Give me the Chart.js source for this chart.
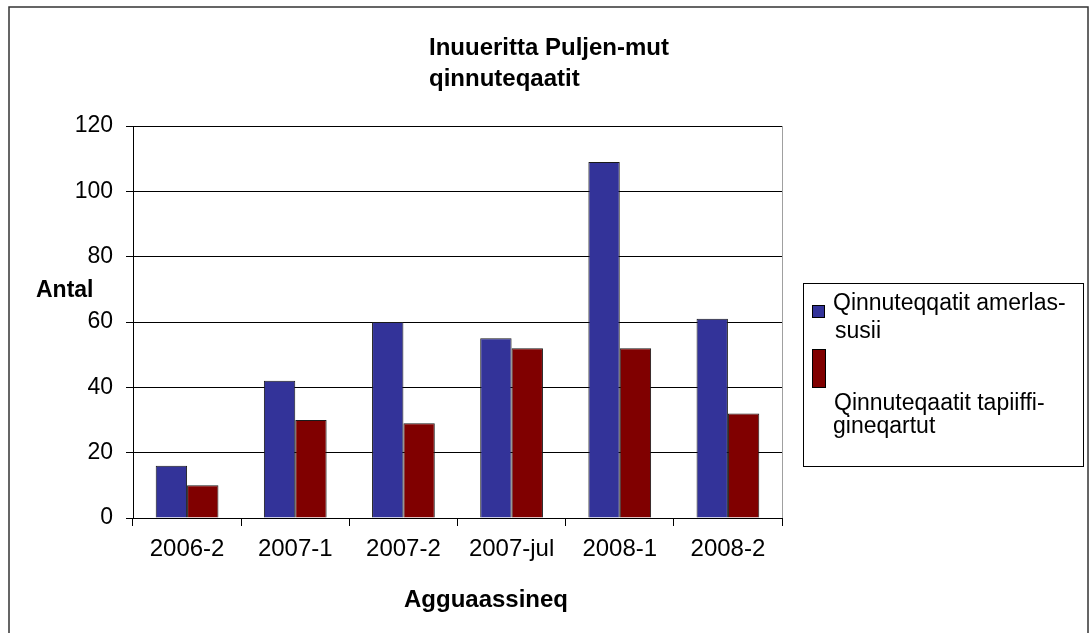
<!DOCTYPE html>
<html>
<head>
<meta charset="utf-8">
<script src="https://cdn.jsdelivr.net/npm/chart.js@4/dist/chart.umd.min.js"></script>
<style>
html,body{margin:0;padding:0;background:#fff;}
#wrap{width:1090px;height:633px;position:relative;}
</style>
</head>
<body>
<div id="wrap"><canvas id="c" width="1090" height="633"></canvas></div>
<script>
const categories = ["2006-2", "2007-1", "2007-2", "2007-jul", "2008-1", "2008-2"];
const seriesNames = ["Qinnuteqqatit amerlassusii", "Qinnuteqaatit tapiiffigineqartut"];
const amerlassusii = [16, 42, 60, 55, 109, 61];
const tapiiffigineqartut = [10, 30, 29, 52, 52, 32];
const yTicks = [0, 20, 40, 60, 80, 100, 120];
const titleLines = ["Inuueritta Puljen-mut", "qinnuteqaatit"];
const xTitle = "Agguaassineq";
const yTitle = "Antal";
const legendLines = [["Qinnuteqqatit amerlas-", "susii"], ["Qinnuteqaatit tapiiffi-", "gineqartut"]];

const FONT = "'Liberation Sans', Arial, sans-serif";
const BLUE = "#333399", RED = "#800000";

const decor = {
  id: "decor",
  beforeDraw(chart) {
    const ctx = chart.ctx;
    ctx.save();
    ctx.fillStyle = "#fff";
    ctx.fillRect(0, 0, chart.width, chart.height);
    ctx.restore();
  },
  afterDraw(chart) {
    const ctx = chart.ctx;
    const a = chart.chartArea;
    ctx.save();
    ctx.strokeStyle = "#a0a0a0";
    ctx.lineWidth = 1;
    ctx.beginPath();
    ctx.moveTo(Math.round(a.right) + 0.5, a.top);
    ctx.lineTo(Math.round(a.right) + 0.5, a.bottom);
    ctx.stroke();
    // outer border
    ctx.strokeStyle = "#333";
    ctx.lineWidth = 1.5;
    ctx.strokeRect(9, 7, 1079, 640);
    // title
    ctx.fillStyle = "#000";
    ctx.font = "bold 24px " + FONT;
    ctx.textAlign = "left";
    ctx.textBaseline = "alphabetic";
    ctx.fillText(titleLines[0], 429, 55);
    ctx.fillText(titleLines[1], 429, 86);
    // y title
    ctx.font = "bold 23px " + FONT;
    ctx.fillText(yTitle, 36, 297);
    // x title
    ctx.font = "bold 24px " + FONT;
    ctx.textAlign = "center";
    ctx.fillText(xTitle, 486, 607);
    // legend
    ctx.strokeStyle = "#000";
    ctx.lineWidth = 1;
    ctx.strokeRect(803.5, 283.5, 280, 183);
    ctx.fillStyle = BLUE;
    ctx.fillRect(812, 305, 13, 13);
    ctx.strokeRect(812.5, 305.5, 12, 12);
    ctx.fillStyle = RED;
    ctx.fillRect(812, 349, 14, 39);
    ctx.strokeRect(812.5, 349.5, 13, 38);
    ctx.fillStyle = "#000";
    ctx.font = "23px " + FONT;
    ctx.textAlign = "left";
    ctx.textBaseline = "alphabetic";
    ctx.fillText(legendLines[0][0], 833, 310);
    ctx.fillText(legendLines[0][1], 835, 338);
    ctx.fillText(legendLines[1][0], 834, 410);
    ctx.fillText(legendLines[1][1], 833, 433);
    ctx.restore();
  }
};

new Chart(document.getElementById("c"), {
  type: "bar",
  data: {
    labels: categories,
    datasets: [
      { label: seriesNames[0], data: amerlassusii, backgroundColor: BLUE, borderColor: "#1a1a1a", borderWidth: 1 },
      { label: seriesNames[1], data: tapiiffigineqartut, backgroundColor: RED, borderColor: "#1a1a1a", borderWidth: 1 }
    ]
  },
  options: {
    responsive: false,
    animation: false,
    events: [],
    layout: { padding: { left: 0, right: 308, top: 126, bottom: 0 } },
    plugins: { legend: { display: false }, title: { display: false }, tooltip: { enabled: false } },
    datasets: { bar: { categoryPercentage: 0.58, barPercentage: 1.0 } },
    scales: {
      x: {
        offset: true,
        grid: { offset: true, drawOnChartArea: false, drawTicks: true, tickLength: 8, color: "#000", tickColor: "#000" },
        border: { color: "#000", width: 1 },
        ticks: { color: "#000", font: { family: FONT, size: 24 }, padding: 9, maxRotation: 0 },
        afterFit(s) { s.height = 115; }
      },
      y: {
        min: 0, max: 120,
        afterBuildTicks(s) { s.ticks = yTicks.map(v => ({ value: v })); },
        grid: { color: "#000", lineWidth: 1, drawTicks: true, tickLength: 7, tickColor: "#000" },
        border: { color: "#000", width: 1 },
        ticks: { color: "#000", font: { family: FONT, size: 23 }, padding: 13 },
        afterFit(s) { s.width = 133; }
      }
    }
  },
  plugins: [decor]
});
</script>
</body>
</html>
